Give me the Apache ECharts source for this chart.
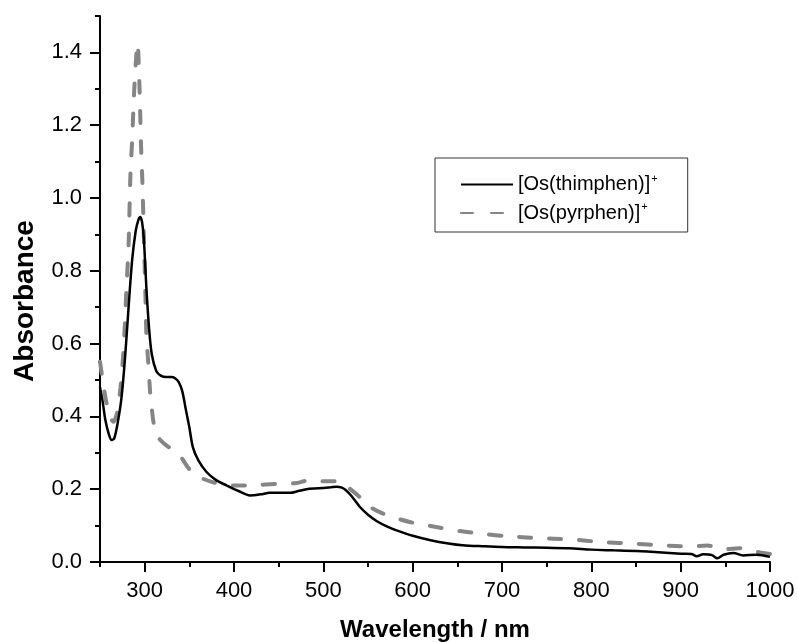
<!DOCTYPE html>
<html>
<head>
<meta charset="utf-8">
<script src="https://cdn.jsdelivr.net/npm/echarts@6/dist/echarts.min.js"></script>
<style>
  html, body { margin: 0; padding: 0; background: #fff; }
  #chart { width: 797px; height: 642px; }
</style>
</head>
<body>
<div id="chart"></div>
<script>
// data
var thimWl = [250, 253, 256, 260, 263, 266, 270, 274, 278, 282, 286, 290, 293, 295, 297, 299, 302, 305, 308, 313, 318, 324, 330, 334, 338, 342, 346, 350, 354, 360, 369, 380, 392, 405, 418, 430, 440, 452, 463, 472, 481, 490, 500, 508, 515, 520, 525, 532, 541, 550, 560, 571, 582, 600, 620, 640, 656, 680, 700, 725, 750, 775, 800, 825, 850, 875, 900, 912, 918, 925, 935, 941, 948, 959, 970, 985, 1000];
var thimAbs = [0.48, 0.44, 0.39, 0.35, 0.335, 0.34, 0.385, 0.45, 0.56, 0.70, 0.83, 0.91, 0.94, 0.948, 0.935, 0.89, 0.75, 0.64, 0.57, 0.525, 0.512, 0.508, 0.508, 0.505, 0.495, 0.47, 0.42, 0.37, 0.315, 0.28, 0.248, 0.225, 0.21, 0.195, 0.183, 0.186, 0.19, 0.19, 0.19, 0.195, 0.2, 0.202, 0.203, 0.205, 0.207, 0.205, 0.198, 0.18, 0.151, 0.13, 0.112, 0.098, 0.087, 0.072, 0.06, 0.051, 0.046, 0.043, 0.041, 0.04, 0.039, 0.038, 0.034, 0.032, 0.03, 0.027, 0.023, 0.022, 0.016, 0.021, 0.019, 0.01, 0.02, 0.025, 0.018, 0.02, 0.014];

var pyrWl = [250, 253, 257, 261, 265, 269, 273, 276.5, 280, 282, 284, 286, 288, 290, 292, 294, 296, 297.5, 299, 300.5, 302, 304, 306, 308, 311, 316, 322, 330, 340, 350, 360, 375, 390, 400, 420, 450, 470, 485, 500, 515, 525, 540, 550, 565, 586, 600, 620, 653, 680, 705, 740, 776, 812, 850, 877, 911, 930, 950, 965, 980, 1000];
var pyrAbs = [0.55, 0.5, 0.44, 0.40, 0.385, 0.41, 0.48, 0.59, 0.77, 0.87, 1.06, 1.16, 1.28, 1.37, 1.425, 1.32, 1.14, 1.04, 0.90, 0.77, 0.62, 0.55, 0.47, 0.42, 0.37, 0.34, 0.325, 0.31, 0.29, 0.255, 0.235, 0.22, 0.212, 0.21, 0.211, 0.215, 0.217, 0.225, 0.222, 0.222, 0.21, 0.18, 0.155, 0.135, 0.117, 0.108, 0.099, 0.085, 0.077, 0.071, 0.066, 0.062, 0.055, 0.05, 0.046, 0.043, 0.045, 0.035, 0.038, 0.03, 0.022];

var xMajorTicks = [300, 400, 500, 600, 700, 800, 900, 1000];
var yMajorTicks = [0, 0.2, 0.4, 0.6, 0.8, 1.0, 1.2, 1.4];

var seriesNames = ['[Os(thimphen)]+', '[Os(pyrphen)]+'];

function pairs(xs, ys) {
    return xs.map(function (x, i) { return [x, ys[i]]; });
}

var FONT = "'Liberation Sans', Arial, sans-serif";
var myChart = echarts.init(document.getElementById('chart'));

var axisLine = { show: true, lineStyle: { color: '#000', width: 2 } };

myChart.setOption({
    animation: false,
    backgroundColor: '#fff',
    grid: { left: 100, right: 27, top: 16, bottom: 80, outerBoundsMode: 'none', containLabel: false },
    legend: {
        orient: 'vertical',
        left: 435,
        top: 158,
        data: seriesNames,
        padding: [15, 30, 9, 25],
        itemGap: 7,
        itemWidth: 52,
        itemHeight: 14,
        borderColor: '#333',
        borderWidth: 1,
        borderRadius: 0,
        itemStyle: { opacity: 0 },
        textStyle: {
            fontFamily: FONT,
            color: '#000',
            rich: {
                n: { fontFamily: FONT, fontSize: 20, color: '#000' },
                sup: { fontFamily: FONT, fontSize: 11, color: '#000', padding: [0, 0, 12, 1] }
            }
        },
        formatter: function (name) {
            return '{n|' + name.slice(0, -1) + '}{sup|+}';
        }
    },
    xAxis: [
        {
            type: 'value',
            min: 250,
            max: 1000,
            name: 'Wavelength / nm',
            nameLocation: 'middle',
            nameGap: 56,
            nameTextStyle: { fontFamily: FONT, fontSize: 24, fontWeight: 'bold', color: '#000' },
            axisLine: axisLine,
            axisTick: { show: true, inside: false, length: 10, lineStyle: { color: '#000', width: 2 }, customValues: xMajorTicks },
            axisLabel: {
                fontFamily: FONT, fontSize: 22, color: '#000', margin: 18,
                customValues: xMajorTicks,
                formatter: function (v) { return String(v); }
            },
            splitLine: { show: false }
        },
        {
            type: 'value',
            position: 'bottom',
            min: 250,
            max: 1000,
            interval: 50,
            axisLine: { show: false },
            axisTick: { show: true, length: 5, lineStyle: { color: '#000', width: 2 } },
            axisLabel: { show: false },
            splitLine: { show: false }
        }
    ],
    yAxis: [
        {
            type: 'value',
            min: 0,
            max: 1.5,
            name: 'Absorbance',
            nameLocation: 'middle',
            nameGap: 61,
            nameTextStyle: { fontFamily: FONT, fontSize: 28, fontWeight: 'bold', color: '#000', padding: [0, 24, 0, 0] },
            axisLine: axisLine,
            axisTick: { show: true, length: 10, lineStyle: { color: '#000', width: 2 }, customValues: yMajorTicks },
            axisLabel: {
                fontFamily: FONT, fontSize: 22, color: '#000', margin: 18,
                customValues: yMajorTicks,
                formatter: function (v) { return v.toFixed(1); }
            },
            splitLine: { show: false }
        },
        {
            type: 'value',
            position: 'left',
            min: 0,
            max: 1.5,
            interval: 0.1,
            axisLine: { show: false },
            axisTick: { show: true, length: 5, lineStyle: { color: '#000', width: 2 } },
            axisLabel: { show: false },
            splitLine: { show: false }
        }
    ],
    series: [
        {
            name: seriesNames[0],
            type: 'line',
            data: pairs(thimWl, thimAbs),
            symbol: 'none',
            smooth: 0.3,
            z: 3,
            lineStyle: { color: '#000', width: 2.5 },
            itemStyle: { color: '#000' }
        },
        {
            name: seriesNames[1],
            type: 'line',
            data: pairs(pyrWl, pyrAbs),
            symbol: 'none',
            smooth: 0.3,
            z: 2,
            lineStyle: { color: '#858585', width: 4, type: [12, 18], cap: 'round' },
            itemStyle: { color: '#858585' }
        }
    ]
});
</script>
</body>
</html>
